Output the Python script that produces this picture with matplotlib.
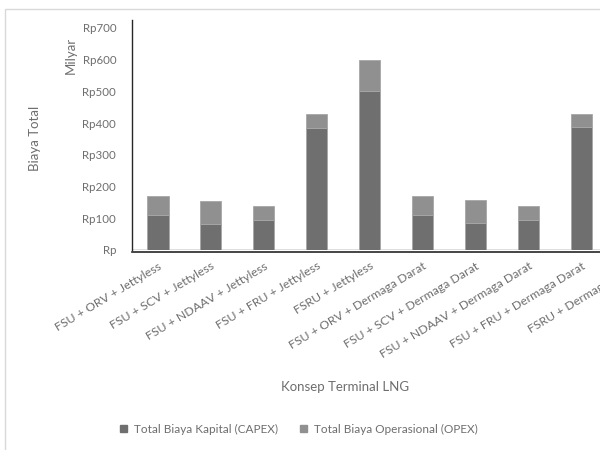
import matplotlib
matplotlib.use("Agg")
import matplotlib.pyplot as plt
from matplotlib.patches import Rectangle, Patch
import numpy as np

plt.rcParams["font.family"] = ["Lato", "DejaVu Sans"]

# Biaya per konsep terminal, dalam milyar Rupiah
konsep = [
    "FSU + ORV + Jettyless",
    "FSU + SCV + Jettyless",
    "FSU + NDAAV + Jettyless",
    "FSU + FRU + Jettyless",
    "FSRU + Jettyless",
    "FSU + ORV + Dermaga Darat",
    "FSU + SCV + Dermaga Darat",
    "FSU + NDAAV + Dermaga Darat",
    "FSU + FRU + Dermaga Darat",
    "FSRU + Dermaga Darat",
]
capex = [109, 83, 93, 384, 500, 109, 86, 93, 388, 504]
opex = [61, 72, 47, 46, 100, 61, 73, 47, 42, 96]
y_ticks = [0, 100, 200, 300, 400, 500, 600, 700]
y_labels = ["Rp", "Rp100", "Rp200", "Rp300", "Rp400", "Rp500", "Rp600", "Rp700"]

text_grey = "#6e6e6e"
c_capex = "#6f6f6f"
c_opex = "#909090"

fig = plt.figure(figsize=(6, 4.5), dpi=100)

# chart area border (extends past the right edge of the figure)
fig.patches.append(Rectangle((5 / 600, -0.05), 1.2, 1 - 9 / 450 + 0.05,
                             transform=fig.transFigure, fill=False,
                             edgecolor="#d9d9d9", lw=1.0))

ax = fig.add_axes([131.5 / 600, 200 / 450, 529 / 600, 230 / 450])
x = np.arange(len(konsep))
ax.bar(x, capex, width=0.4, color=c_capex, edgecolor="#a6a6a6", lw=0.6,
       label="Total Biaya Kapital (CAPEX)")
ax.bar(x, opex, width=0.4, bottom=capex, color=c_opex, edgecolor="#a6a6a6",
       lw=0.6, label="Total Biaya Operasional (OPEX)")

ax.set_xlim(-0.5, len(konsep) - 0.5)
ax.set_ylim(0, 725)
ax.axhline(0, color="#d9d9d9", lw=1.2, zorder=0)

for s in ["top", "right"]:
    ax.spines[s].set_visible(False)
ax.spines["left"].set_color("#262626")
ax.spines["bottom"].set_color("#262626")
ax.spines["left"].set_linewidth(1.0)
ax.spines["bottom"].set_linewidth(1.2)
ax.spines["bottom"].set_position(("outward", 1.5))

ax.set_yticks(y_ticks)
ax.set_yticklabels(y_labels)
ax.tick_params(axis="y", length=0, pad=11, labelsize=8.3, labelcolor=text_grey)
ax.set_xticks(x)
ax.set_xticklabels(konsep, rotation=31, ha="right", rotation_mode="anchor",
                   fontsize=8.8, color=text_grey)
ax.tick_params(axis="x", length=0, pad=6)

fig.text(71 / 600, 1 - 55 / 450, "Milyar", rotation=90, ha="center",
         va="center", fontsize=9.5, color=text_grey)
fig.text(35 / 600, 1 - 138 / 450, "Biaya Total", rotation=90, ha="center",
         va="center", fontsize=9.5, color=text_grey)
fig.text(345 / 600, 1 - 387 / 450, "Konsep Terminal LNG", ha="center",
         va="center", fontsize=9.5, color=text_grey)

handles = [Patch(color=c_capex), Patch(color=c_opex)]
fig.legend(handles, ["Total Biaya Kapital (CAPEX)", "Total Biaya Operasional (OPEX)"],
           loc="center", bbox_to_anchor=(299 / 600, 1 - 429 / 450), ncol=2,
           frameon=False, fontsize=8.5, labelcolor=text_grey,
           handlelength=0.6, handleheight=0.6, handletextpad=0.6,
           columnspacing=1.8)

fig.savefig("out.png", dpi=100)
